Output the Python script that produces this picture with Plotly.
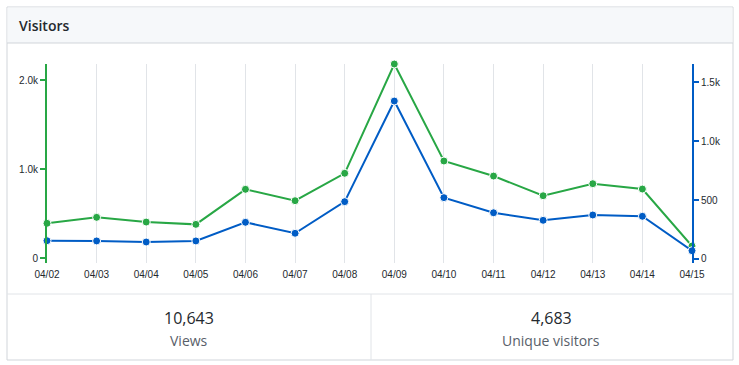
import plotly.graph_objects as go

dates = ["04/02", "04/03", "04/04", "04/05", "04/06", "04/07", "04/08",
         "04/09", "04/10", "04/11", "04/12", "04/13", "04/14", "04/15"]
views = [390, 457, 404, 378, 772, 644, 952, 2180, 1090, 921, 700, 835, 775, 135]
uniques = [155, 153, 144, 153, 311, 218, 486, 1339, 520, 392, 328, 373, 362, 70]

total_views = "10,643"
total_uniques = "4,683"
title = "Visitors"

left_tickvals = [0, 1000, 2000]
left_ticktext = ["0", "1.0k", "2.0k"]
right_tickvals = [0, 500, 1000, 1500]
right_ticktext = ["0", "500", "1.0k", "1.5k"]

W, H = 739, 365
GREEN = "#28a745"
BLUE = "#005cc5"
BORDER = "#d1d5da"


def px(x):
    return x / W


def py(y):
    return 1 - y / H


fig = go.Figure()
fig.add_trace(go.Scatter(
    x=list(range(len(dates))), y=views, mode="lines+markers", yaxis="y",
    line=dict(color=GREEN, width=2),
    marker=dict(color=GREEN, size=8, line=dict(color="white", width=1)),
    name="Views", cliponaxis=False))
fig.add_trace(go.Scatter(
    x=list(range(len(dates))), y=uniques, mode="lines+markers", yaxis="y2",
    line=dict(color=BLUE, width=2),
    marker=dict(color=BLUE, size=8, line=dict(color="white", width=1)),
    name="Unique visitors", cliponaxis=False))

tickfont = dict(family="Liberation Sans, Arial, sans-serif", size=10, color="#24292e")
uifont = "Open Sans, Noto Sans, sans-serif"

shapes = [
    # card border
    dict(type="rect", xref="paper", yref="paper", x0=px(7), x1=px(733), y0=py(360), y1=py(7),
         line=dict(color=BORDER, width=1), fillcolor="white", layer="below"),
    # header
    dict(type="rect", xref="paper", yref="paper", x0=px(7.5), x1=px(732.5), y0=py(43), y1=py(7.5),
         line=dict(width=0), fillcolor="#f6f8fa", layer="below"),
    dict(type="line", xref="paper", yref="paper", x0=px(7), x1=px(733), y0=py(43), y1=py(43),
         line=dict(color=BORDER, width=1), layer="below"),
    # footer separator
    dict(type="line", xref="paper", yref="paper", x0=px(7), x1=px(733), y0=py(294), y1=py(294),
         line=dict(color="#e1e4e8", width=1), layer="below"),
    dict(type="line", xref="paper", yref="paper", x0=px(371), x1=px(371), y0=py(360), y1=py(294),
         line=dict(color="#e1e4e8", width=1), layer="below"),
]

annotations = [
    dict(text=title, xref="paper", yref="paper", x=px(17), y=py(25),
         xanchor="left", yanchor="middle", showarrow=False,
         font=dict(family=uifont, size=14, color="#24292e", weight=600)),
    dict(text=total_views, xref="paper", yref="paper", x=px(189), y=py(318),
         xanchor="center", yanchor="middle", showarrow=False,
         font=dict(family=uifont, size=16, color="#24292e")),
    dict(text="Views", xref="paper", yref="paper", x=px(189), y=py(340),
         xanchor="center", yanchor="middle", showarrow=False,
         font=dict(family=uifont, size=14, color="#586069")),
    dict(text=total_uniques, xref="paper", yref="paper", x=px(551), y=py(318),
         xanchor="center", yanchor="middle", showarrow=False,
         font=dict(family=uifont, size=16, color="#24292e")),
    dict(text="Unique visitors", xref="paper", yref="paper", x=px(551), y=py(340),
         xanchor="center", yanchor="middle", showarrow=False,
         font=dict(family=uifont, size=14, color="#586069")),
]

fig.update_layout(
    width=W, height=H,
    margin=dict(l=0, r=0, t=0, b=0, pad=0, autoexpand=False),
    paper_bgcolor="white", plot_bgcolor="rgba(0,0,0,0)",
    showlegend=False,
    shapes=shapes, annotations=annotations,
    xaxis=dict(domain=[px(47), px(692)], range=[0, len(dates) - 1],
               tickmode="array", tickvals=list(range(len(dates))), ticktext=dates,
               showgrid=True, gridcolor="#e1e4e8", gridwidth=1,
               zeroline=False, showline=False, ticks="", tickfont=tickfont,
               ticklabelstandoff=4, fixedrange=True, automargin=False),
    yaxis=dict(domain=[py(263), py(64)], range=[-56, 2180],
               tickmode="array", tickvals=left_tickvals, ticktext=left_ticktext,
               showgrid=False, zeroline=False, showline=True, linecolor=GREEN, linewidth=2,
               ticks="outside", ticklen=5, tickcolor=GREEN, tickwidth=2,
               tickfont=tickfont, anchor="x", side="left", automargin=False),
    yaxis2=dict(domain=[py(263), py(64)], range=[-34, 1653], overlaying="y",
                tickmode="array", tickvals=right_tickvals, ticktext=right_ticktext,
                showgrid=False, zeroline=False, showline=True, linecolor=BLUE, linewidth=2,
                ticks="outside", ticklen=5, tickcolor=BLUE, tickwidth=2,
                tickfont=tickfont, anchor="x", side="right", automargin=False),
)

fig.write_html(
    "out.html",
    config={"displayModeBar": False},
    post_script="document.body.style.margin='0px';document.body.style.overflow='hidden';",
)
